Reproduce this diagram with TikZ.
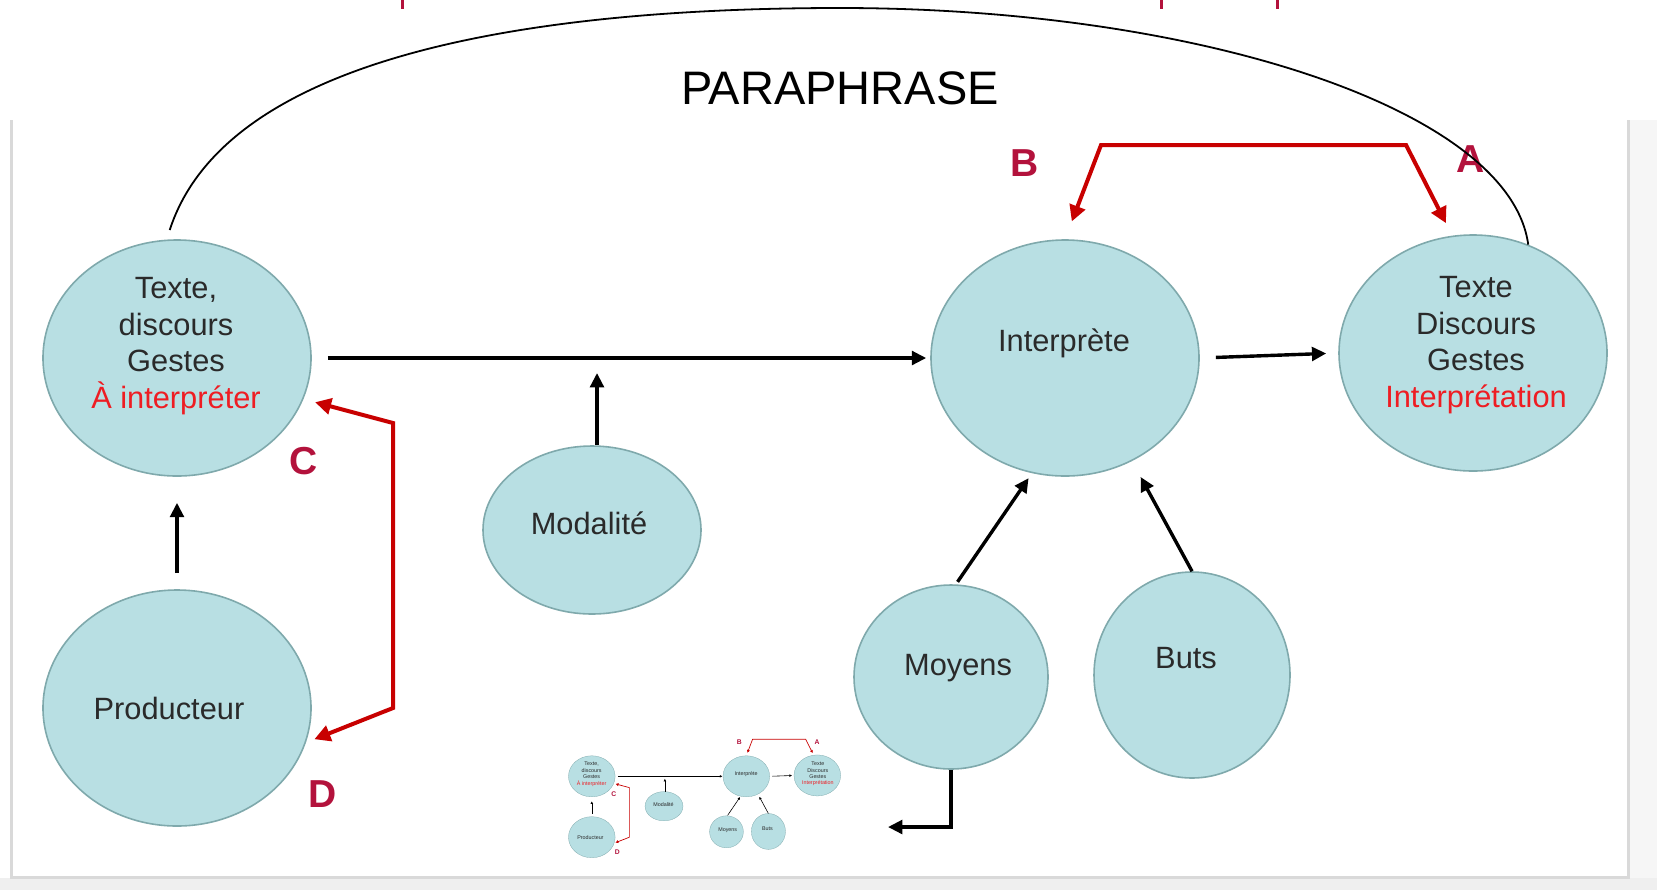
\documentclass[tikz,border=0pt]{standalone}
\usepackage{fontspec}
\setmainfont{Liberation Sans}
\usetikzlibrary{shapes.geometric,arrows.meta}

\definecolor{bub}{HTML}{B8DFE3}
\definecolor{bubline}{HTML}{7FA9AC}
\definecolor{ink}{HTML}{2A2A2A}
\definecolor{redtxt}{HTML}{EE1D23}
\definecolor{redln}{HTML}{C80000}
\definecolor{crimson}{HTML}{B3123C}
\definecolor{panelline}{HTML}{D9D9D9}
\definecolor{sidegray}{HTML}{F6F6F6}
\definecolor{bandgray}{HTML}{EFEFEF}

% line widths and gaps are multiplied by \dsc so that the small copy stays in proportion
\def\dsc{1}
\tikzset{
  bubble/.style={ellipse, draw=bubline, fill=bub, line width=\dsc*0.8pt, inner sep=0pt},
  txt/.style={text=ink, align=center, font=\fontsize{15.4}{18.3}\selectfont, inner sep=0pt},
  blk/.style={draw=black, line width=\dsc*1.7pt, -{Triangle[length=0pt 4.2, width=0pt 4]}},
  redc/.style={draw=redln, line width=\dsc*2pt, line join=miter,
    {Triangle[length=0pt 4, width=0pt 4]}-{Triangle[length=0pt 4, width=0pt 4]}},
  letter/.style={text=crimson, font=\fontsize{19.5}{20}\selectfont\bfseries, inner sep=0pt},
}

% the interpretation scheme; #1 is a prefix for the node names
\newcommand\interpscheme[1]{%
  \node[bubble, minimum width=134pt, minimum height=118pt] (#1src)  at (177,358) {};
  \node[bubble, minimum width=134pt, minimum height=118pt] (#1prod) at (177,708) {};
  \node[bubble, minimum width=109pt, minimum height=84pt]  (#1mod)  at (592,530) {};
  \node[bubble, minimum width=134pt, minimum height=118pt] (#1int)  at (1065,358) {};
  \node[bubble, minimum width=134pt, minimum height=118pt] (#1res)  at (1473,353) {};
  \node[bubble, minimum width=97pt,  minimum height=92pt]  (#1moy)  at (951,677) {};
  \node[bubble, minimum width=98pt,  minimum height=103pt] (#1buts) at (1192,675) {};
  %
  \node[txt] (#1src-t)  at (176,346) {Texte,\\discours\\Gestes\\\textcolor{redtxt}{À interpréter}};
  \node[txt] (#1prod-t) at (169,708) {Producteur};
  \node[txt] (#1mod-t)  at (589,523) {Modalité};
  \node[txt] (#1int-t)  at (1064,343) {Interprète};
  \node[txt] (#1res-t)  at (1476,345) {Texte\\Discours\\Gestes\\\textcolor{redtxt}{Interprétation}};
  \node[txt] (#1moy-t)  at (958,668) {Moyens};
  \node[txt] (#1buts-t) at (1186,658) {Buts};
  %
  \draw[blk, shorten <=\dsc*8pt, shorten >=\dsc*2pt] (#1src.east) -- (#1int.west);
  \coordinate (#1modtip) at (597,373);
  \draw[blk] (#1modtip |- #1mod.north) -- (#1modtip);
  \draw[blk, shorten <=\dsc*8pt, shorten >=\dsc*6pt] (#1int.east) -- (#1res.west);
  \draw[blk, shorten <=\dsc*8pt, shorten >=\dsc*13pt] (#1prod.north) -- (#1src.south);
  \draw[blk, shorten <=\dsc*1.5pt, shorten >=\dsc*3pt] (#1moy.87) -- (#1int.254);
  \draw[blk, shorten >=\dsc*9pt] (#1buts.north) -- (#1int.303);
  %
  \coordinate (#1ab1) at (1101,145);
  \coordinate (#1ab2) at (1406,145);
  \draw[redc, shorten <=\dsc*9.5pt, shorten >=\dsc*7pt]
    (#1int.north) -- (#1ab1) -- (#1ab2) -- (#1res.100);
  \coordinate (#1cd1) at (393,423);
  \coordinate (#1cd2) at (393,708);
  \draw[redc, shorten <=\dsc*6pt, shorten >=\dsc*4.5pt]
    (#1src.-18) -- (#1cd1) -- (#1cd2) -- (#1prod.-15);
  %
  \node[letter] (#1lA) at (1471,159) {A};
  \node[letter] (#1lB) at (1025,163) {B};
  \node[letter] (#1lC) at (304,461) {C};
  \node[letter] (#1lD) at (323,794) {D};
}

\begin{document}
\begin{tikzpicture}[x=0.5pt, y=-0.5pt]
  \useasboundingbox (0,0) rectangle (1657,890);
  % page and slide panel
  \fill[white] (0,0) rectangle (1657,890);
  \fill[sidegray] (1629,120) rectangle (1657,878);
  \fill[bandgray] (0,878) rectangle (1657,890);
  \draw[panelline, line width=1.5pt] (11,120) -- (11,877) -- (1628,877) -- (1628,120);
  % marks on the upper edge
  \foreach \tx in {402,1161,1277}
    \draw[crimson, line width=1.5pt] (\tx,0) -- (\tx,9);

  \interpscheme{}

  % paraphrase arc
  \coordinate (partop) at (840,8);
  \draw[black, line width=0.9pt, shorten <=5pt]
    (src.95) .. controls (228,50) and (550,8) .. (partop)
    .. controls (1200,8) and (1510,110) .. (res.63);
  \node[font=\fontsize{23.5}{26}\selectfont, inner sep=0pt] (para) at (840,88) {PARAPHRASE};

  % exit arrow below Moyens
  \coordinate (moyout) at (888,827);
  \draw[blk] (moy.south) |- (moyout);

  % small copy of the scheme
  \begin{scope}[shift={(561,714)}, scale=0.174, transform shape]
    \def\dsc{0.174}
    \interpscheme{t-}
  \end{scope}
\end{tikzpicture}
\end{document}
